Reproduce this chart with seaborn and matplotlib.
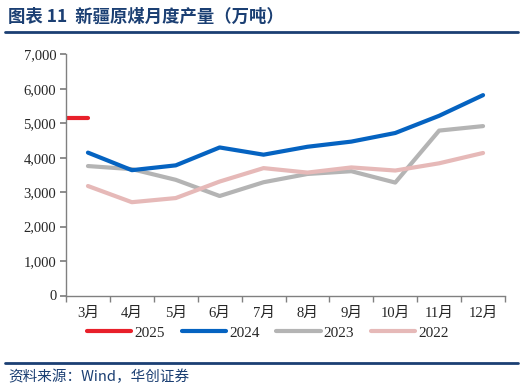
import matplotlib
matplotlib.use("Agg")
import matplotlib.pyplot as plt
import seaborn as sns
import pandas as pd
import numpy as np
from matplotlib.lines import Line2D

months = ["3月", "4月", "5月", "6月", "7月", "8月", "9月", "10月", "11月", "12月"]
v2024 = [4150, 3640, 3780, 4300, 4090, 4320, 4470, 4720, 5220, 5820]
v2023 = [3760, 3670, 3360, 2890, 3290, 3530, 3610, 3280, 4790, 4920]
v2022 = [3180, 2710, 2830, 3310, 3700, 3570, 3720, 3630, 3840, 4140]
v2025 = [5150, 5150]
x2025 = [-0.5, 0.0]

colors = {"2025": "#E8202A", "2024": "#0563C1", "2023": "#B4B4B4", "2022": "#E6B9B8"}

sns.set_theme(style="white")
plt.rcParams['font.family'] = ['Liberation Serif', 'Noto Sans CJK SC', 'DejaVu Sans']

fig = plt.figure(figsize=(5.24, 3.9), dpi=100)
ax = fig.add_axes([66/524, 1 - 295.5/390, (505-66)/524, (295.5-54.5)/390])

rows = []
for yr, vals in [("2024", v2024), ("2023", v2023), ("2022", v2022)]:
    for i, v in enumerate(vals):
        rows.append({"x": i, "value": v, "year": yr})
df = pd.DataFrame(rows)
df25 = pd.DataFrame({"x": x2025, "value": v2025, "year": "2025"})

sns.lineplot(data=df25, x="x", y="value", color=colors["2025"], lw=3, ax=ax,
             legend=False, solid_capstyle="round")
for yr in ["2022", "2023", "2024"]:
    sns.lineplot(data=df[df.year == yr], x="x", y="value", color=colors[yr], lw=3,
                 ax=ax, legend=False, solid_capstyle="round", zorder={"2024": 5, "2023": 3, "2022": 4}[yr])

ax.set_xlim(-0.5, len(months) - 0.5)
ax.set_ylim(0, 7000)
ax.set_yticks(np.arange(0, 7001, 1000))
ax.set_yticklabels([f"{int(v):,}" for v in np.arange(0, 7001, 1000)], fontsize=10.5)
ax.set_xticks(np.arange(len(months)))
ax.set_xticklabels(months, fontsize=10.5, family=['Liberation Serif', 'Noto Sans CJK SC'])
ax.set_xticks(np.arange(-0.5, len(months)), minor=True)
ax.tick_params(axis="x", which="major", length=0, pad=8)
ax.tick_params(axis="x", which="minor", length=4, color="#808080", direction="out", bottom=True)
ax.tick_params(axis="y", length=4, color="#808080", direction="out", left=True, pad=3)
ax.set_xlabel("")
ax.set_ylabel("")
for s in ["top", "right"]:
    ax.spines[s].set_visible(False)
for s in ["left", "bottom"]:
    ax.spines[s].set_color("#808080")
    ax.spines[s].set_linewidth(1)
ax.grid(False)

handles = [Line2D([0], [0], color=colors[y], lw=3, solid_capstyle="round") for y in ["2025", "2024", "2023", "2022"]]
fig.legend(handles, ["2025", "2024", "2023", "2022"], loc="center", bbox_to_anchor=(268/524, 1 - 333/390),
           ncol=4, frameon=False, handlelength=2.9, handletextpad=0.2, columnspacing=1.1,
           prop={"family": "Liberation Serif", "size": 11})

navy = "#1B3F73"
fig.text(8/524, 1 - 17/390, "图表 11  新疆原煤月度产量（万吨）", fontsize=12.5, fontweight="bold",
         color=navy, va="center", ha="left", family=['Noto Sans CJK SC', 'DejaVu Sans'])
fig.add_artist(Line2D([5/524, 518/524], [1 - 32/390, 1 - 32/390], color=navy, lw=2))
fig.add_artist(Line2D([5/524, 518/524], [1 - 363/390, 1 - 363/390], color=navy, lw=2))
fig.text(8/524, 1 - 377/390, "资料来源：Wind，华创证券", fontsize=10.5, style="italic",
         color=navy, va="center", ha="left", family=['Noto Sans CJK SC', 'DejaVu Sans'])

fig.savefig("out.png", dpi=100)
